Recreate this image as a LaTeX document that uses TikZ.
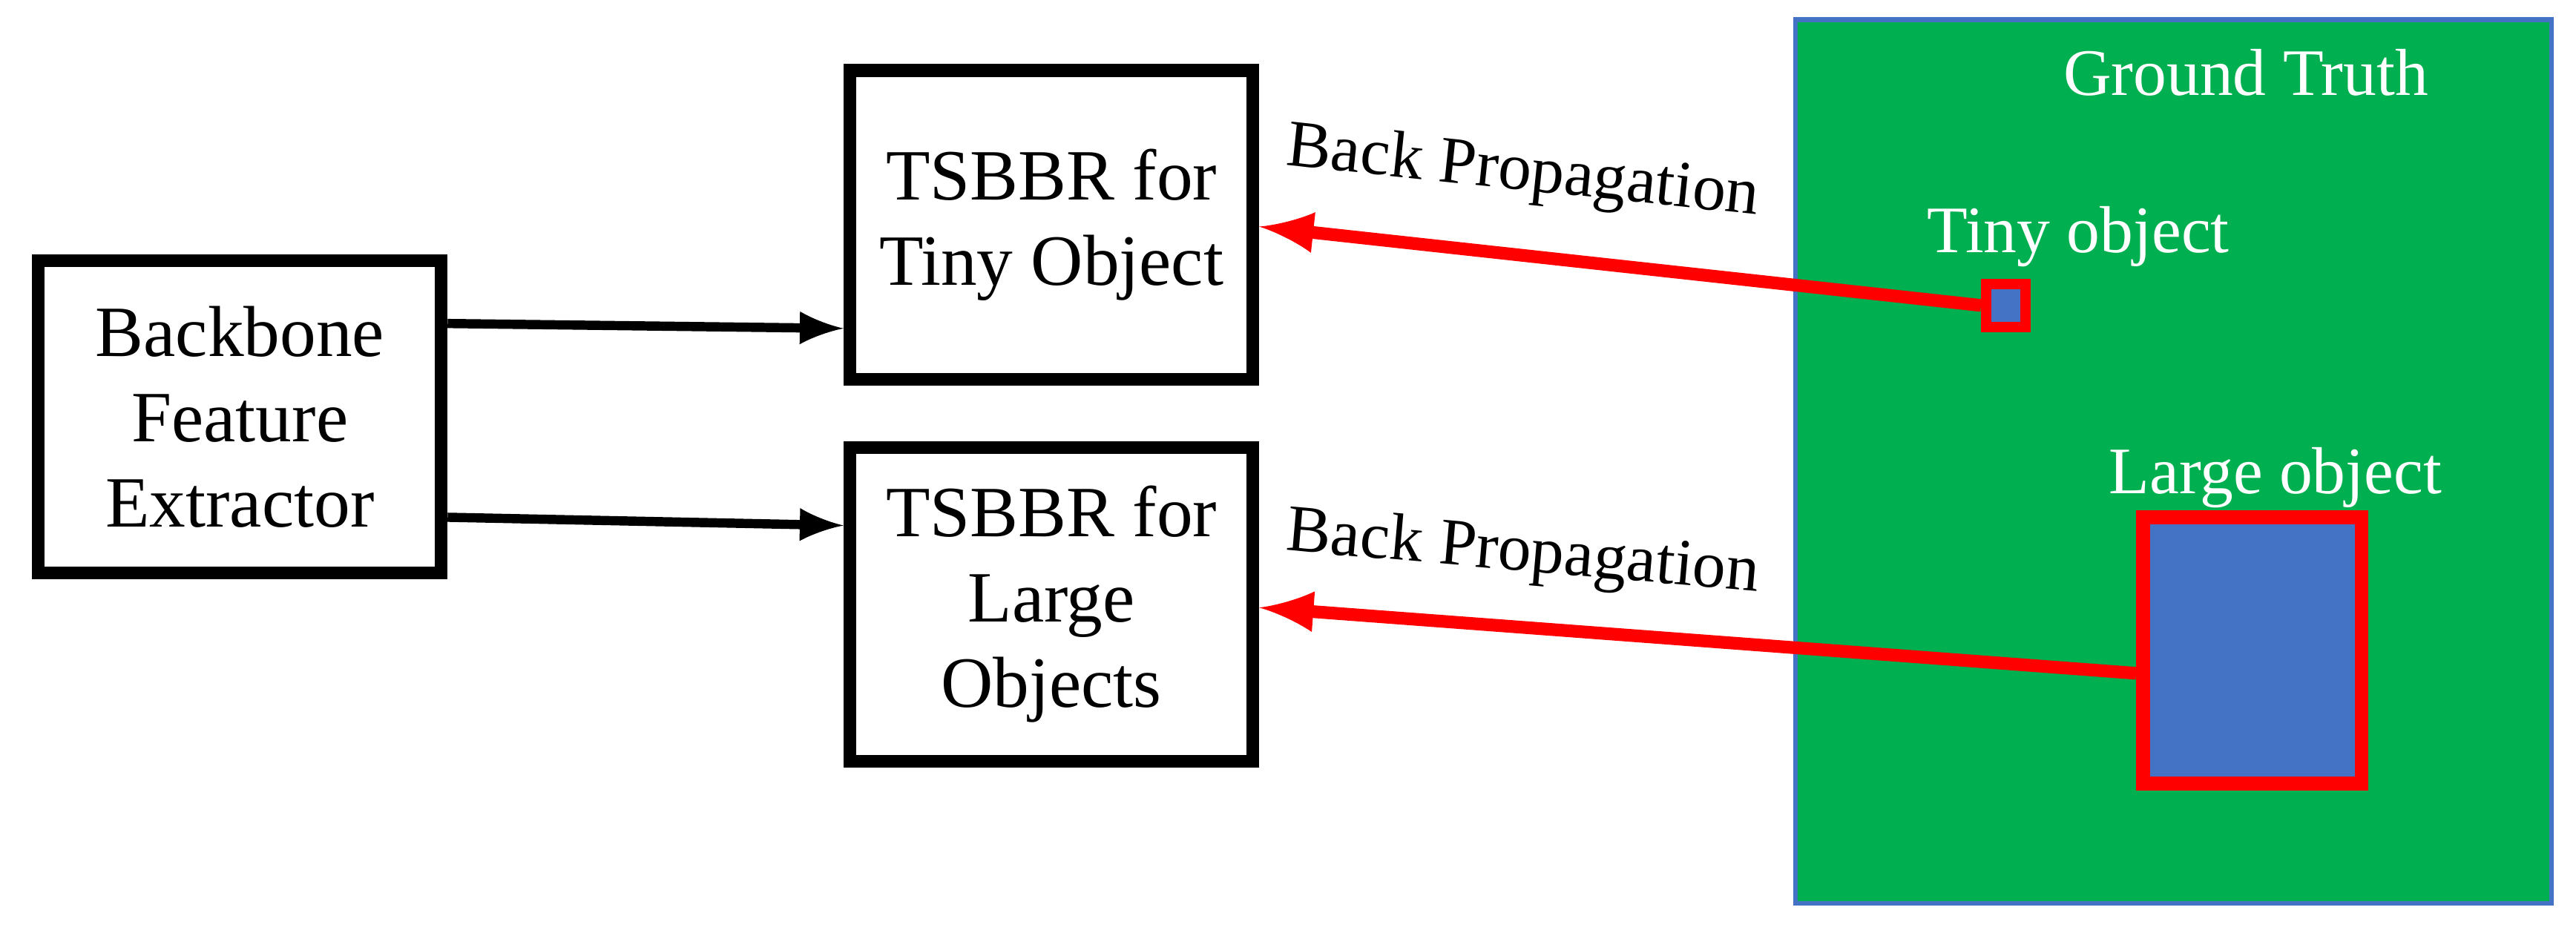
\documentclass[tikz,border=0pt]{standalone}
\usepackage{fontspec}
\setmainfont{Liberation Serif}
\definecolor{gt}{RGB}{0,176,80}
\definecolor{obj}{RGB}{68,114,196}
\begin{document}
\begin{tikzpicture}[x=0.01cm,y=-0.01cm,
  box/.style={draw=black,line width=2.2pt,minimum width=2.45cm,align=center,font=\fontsize{12.5}{14.8}\selectfont},
  blk/.style={-latex,line width=1.6pt},
  red/.style={-latex,draw=red,line width=2.2pt},
  lbl/.style={font=\fontsize{11.5}{13}\selectfont},
  wl/.style={text=white,font=\fontsize{11.5}{13}\selectfont}]
\useasboundingbox (0,0) rectangle (1568,568);
\node[box,minimum height=1.9cm] (bb) at (146,254) {Backbone\\Feature\\Extractor};
\node[box,minimum height=1.88cm] (t1) at (640,137) {TSBBR for\\Tiny Object};
\node[box,minimum height=1.91cm] (t2) at (640,368) {TSBBR for\\Large\\Objects};
\fill[gt] (1093,12) rectangle (1553,550);
\draw[obj,line width=0.8pt] (1093,12) rectangle (1553,550);
\node[wl] (gtl) at (1367,44) {Ground Truth};
\node[wl] (tol) at (1265,144) {Tiny object};
\node[wl] (lol) at (1385,291) {Large object};
\node[draw=red,fill=obj,line width=1.8pt,minimum width=0.24cm,minimum height=0.26cm,inner sep=0] (to) at (1221,186) {};
\node[draw=red,fill=obj,line width=2.4pt,minimum width=1.33cm,minimum height=1.62cm,inner sep=0] (lo) at (1371,396) {};
\draw[blk] (bb.east|-0,197) -- (t1.west|-0,200);
\draw[blk] (bb.east|-0,315) -- (t2.west|-0,320);
\draw[red] (to.west) -- (t1.east|-0,138);
\draw[red] (lo.west|-0,410) -- (t2.east|-0,370);
\node[lbl,rotate=-6] (bp1) at (927,106) {Back Propagation};
\node[lbl,rotate=-5] (bp2) at (927,338) {Back Propagation};
\end{tikzpicture}
\end{document}
